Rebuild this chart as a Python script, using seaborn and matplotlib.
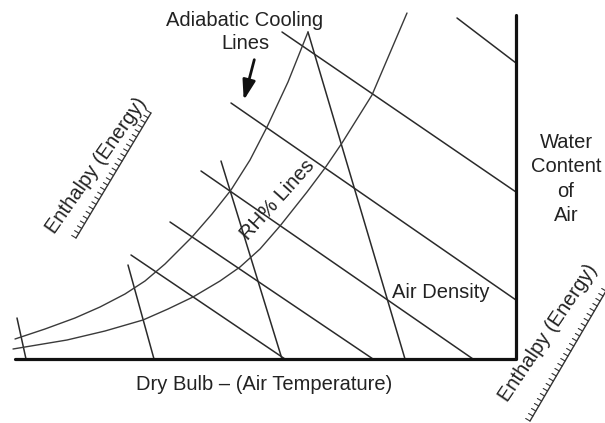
import numpy as np
import pandas as pd
import matplotlib
matplotlib.use("Agg")
import matplotlib.pyplot as plt
import seaborn as sns

sns.set_theme(style="white")
plt.rcParams['font.family'] = ['Liberation Sans', 'DejaVu Sans']

# ---- data read from the schematic (picture units: x to the right, y downward) ----
# chart frame (dry bulb axis and water-content axis)
frame_x = [15, 516, 516]
frame_y = [359, 359, 15]

# adiabatic cooling lines: start (upper-left) and end points
adiab_x0 = [131, 170, 201, 231, 282, 457]
adiab_y0 = [255, 222, 171, 103, 32, 18]
adiab_x1 = [285, 373, 473, 516, 516, 516]
adiab_y1 = [359, 359, 359, 300, 192, 63]

# air density (specific volume) lines
dens_x0 = [17, 128, 221, 308]
dens_y0 = [318, 265, 161, 32]
dens_x1 = [26, 154, 282, 405]
dens_y1 = [359, 359, 359, 359]

# RH% curves
rh_upper_x = [15, 45, 75, 100, 125, 145, 165, 192, 212, 231, 250, 267, 288, 308]
rh_upper_y = [339, 329, 318, 307, 294, 281, 264, 237, 214, 190, 160, 127, 82, 32]
rh_lower_x = [13, 67, 105, 143, 168, 193, 220, 240, 260, 280, 307, 325, 342, 372, 407]
rh_lower_y = [349, 340, 331, 320, 309, 297, 281, 267, 249, 226, 192, 168, 143, 95, 13]

# ---- build long-form tables ----
rows = []
for i, (a, b, c, d) in enumerate(zip(adiab_x0, adiab_y0, adiab_x1, adiab_y1)):
    rows += [("ad%d" % i, a, b), ("ad%d" % i, c, d)]
for i, (a, b, c, d) in enumerate(zip(dens_x0, dens_y0, dens_x1, dens_y1)):
    rows += [("de%d" % i, a, b), ("de%d" % i, c, d)]
lines_df = pd.DataFrame(rows, columns=["line", "x", "y"])

curves_df = pd.concat([
    pd.DataFrame({"line": "upper", "x": rh_upper_x, "y": rh_upper_y}),
    pd.DataFrame({"line": "lower", "x": rh_lower_x, "y": rh_lower_y}),
])
frame_df = pd.DataFrame({"line": "frame", "x": frame_x, "y": frame_y})

fig = plt.figure(figsize=(6.05, 4.23), dpi=100)
ax = fig.add_axes([0, 0, 1, 1])
ax.set_xlim(0, 605)
ax.set_ylim(423, 0)
ax.set_axis_off()

ink = "#2a2a2a"
sns.lineplot(data=lines_df, x="x", y="y", units="line", estimator=None, sort=False,
             color=ink, lw=1.1, ax=ax, legend=False)
sns.lineplot(data=curves_df, x="x", y="y", units="line", estimator=None, sort=False,
             color="#3a3a3a", lw=1.0, ax=ax, legend=False)
sns.lineplot(data=frame_df, x="x", y="y", units="line", estimator=None, sort=False,
             color="#111111", lw=2.3, ax=ax, legend=False)

# ---- text ----
fs = 14.5
tc = "#222222"
ax.text(245, 32, "Adiabatic Cooling\nLines", ha="center", va="center",
        fontsize=fs, color=tc, linespacing=1.3)
ax.annotate("", xy=(243, 103), xytext=(255, 57),
            arrowprops=dict(arrowstyle="-|>,head_length=1.0,head_width=0.32",
                            color="#111111", lw=2.0))
ax.text(566, 179, "Water\nContent\nof\nAir", ha="center", va="center",
        fontsize=fs, color=tc, linespacing=1.35)
ax.text(264, 385, "Dry Bulb – (Air Temperature)", ha="center", va="center",
        fontsize=fs, color=tc)
ax.text(441, 292, "Air Density", ha="center", va="center",
        fontsize=fs, color=tc)
ax.text(278, 200, "RH% Lines", ha="center", va="center", rotation=48,
        fontsize=fs, color=tc, rotation_mode="anchor")
ax.text(96, 166, "Enthalpy (Energy)", ha="center", va="center", rotation=55,
        fontsize=fs, color=tc, rotation_mode="anchor")
ax.text(548, 333, "Enthalpy (Energy)", ha="center", va="center", rotation=56,
        fontsize=fs, color=tc, rotation_mode="anchor")

# ---- enthalpy rulers (comb scales) ----
def ruler(x0, y0, x1, y1, n, tick):
    xs = np.linspace(x0, x1, n)
    ys = np.linspace(y0, y1, n)
    ax.plot([x0, x1], [y0, y1], color="#333333", lw=1.0)
    dx, dy = x1 - x0, y1 - y0
    L = np.hypot(dx, dy)
    # perpendicular pointing toward upper-left (toward the label)
    px, py = dy / L, -dx / L
    if px > 0:
        px, py = -px, -py
    for x, y in zip(xs, ys):
        ax.plot([x, x + px * tick], [y, y + py * tick], color="#333333", lw=0.8)

ruler(76, 238, 151, 113, 27, 5)
ruler(530, 421, 606, 291, 27, 5)

fig.savefig("out.png", dpi=100)
